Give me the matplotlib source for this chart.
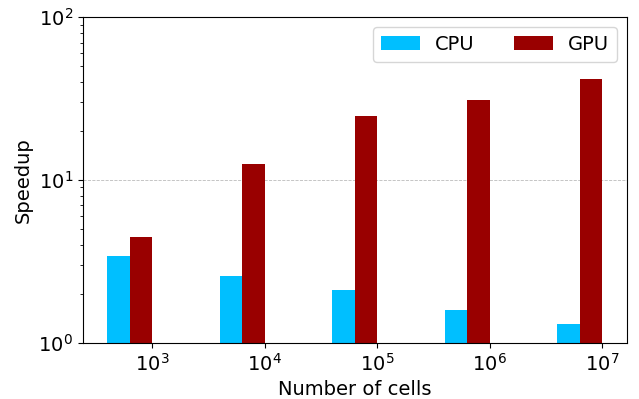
import matplotlib
matplotlib.use("Agg")
import matplotlib.pyplot as plt
import numpy as np

categories = ["$10^3$", "$10^4$", "$10^5$", "$10^6$", "$10^7$"]
cpu = [3.41, 2.58, 2.10, 1.59, 1.30]
gpu = [4.48, 12.5, 24.7, 31.0, 41.8]

fig = plt.figure(figsize=(6.39, 3.99), dpi=100)
ax = fig.add_axes([0.1294, 0.1411, 0.9808 - 0.1294, 0.9566 - 0.1411])

x = np.arange(len(categories))
w = 0.2
ax.bar(x - 0.3, cpu, width=w, color="#00BFFF", label="CPU")
ax.bar(x - 0.1, gpu, width=w, color="#990000", label="GPU")

ax.set_yscale("log")
ax.set_ylim(1, 100)
ax.set_xticks(x)
ax.set_xticklabels(categories, fontsize=14)
ax.tick_params(axis="y", labelsize=14)
ax.set_xlabel("Number of cells", fontsize=14)
ax.set_ylabel("Speedup", fontsize=14)
ax.grid(axis="y", which="major", linestyle="--", color="#bbbbbb", linewidth=0.6)
ax.set_axisbelow(True)
ax.legend(loc="upper right", ncol=2, fontsize=14)

fig.savefig("out.png", dpi=100)
